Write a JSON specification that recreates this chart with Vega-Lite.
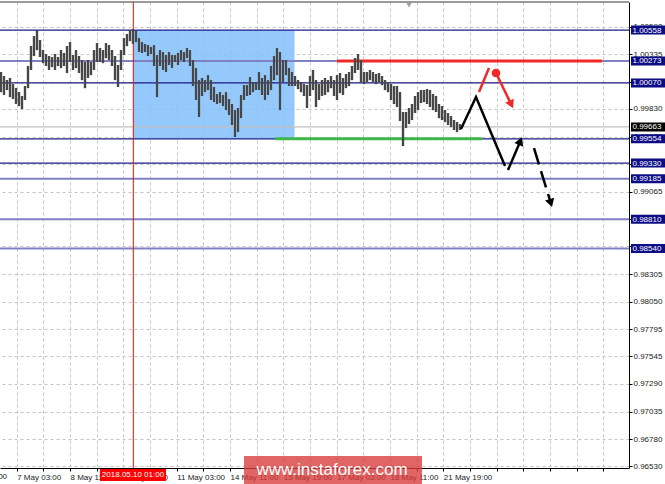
{
  "$schema": "https://vega.github.io/schema/vega-lite/v6.json",
  "width": 629,
  "height": 466,
  "autosize": {"type": "none"},
  "padding": {"left": 0, "top": 2, "right": 36, "bottom": 16},
  "background": "white",
  "config": {
    "view": {"stroke": null},
    "axis": {"labelOverlap": false, "labelFlush": false, "labelBound": false}
  },
  "datasets": {
    "bars": [
      {"i":1,"h":1.0017,"l":0.99985},{"i":4,"h":1.00133,"l":0.99958},{"i":7,"h":1.00096,"l":1.00004},{"i":10,"h":1.00115,"l":0.99939},
      {"i":13,"h":1.00059,"l":0.99921},{"i":16,"h":1.00022,"l":0.99875},{"i":19,"h":0.99985,"l":0.99856},{"i":22,"h":0.99949,"l":0.99828},
      {"i":25,"h":1.00041,"l":0.99912},{"i":28,"h":1.00226,"l":1.00022},{"i":31,"h":1.0041,"l":1.00189},{"i":34,"h":1.00503,"l":1.00318},
      {"i":37,"h":1.00558,"l":1.00373},{"i":40,"h":1.00466,"l":1.00309},{"i":43,"h":1.00373,"l":1.00253},{"i":46,"h":1.00336,"l":1.00226},
      {"i":49,"h":1.00318,"l":1.00189},{"i":52,"h":1.00309,"l":1.00216},{"i":55,"h":1.00336,"l":1.00189},{"i":58,"h":1.00309,"l":1.00226},
      {"i":61,"h":1.00373,"l":1.00207},{"i":64,"h":1.00346,"l":1.00226},{"i":67,"h":1.0041,"l":1.00161},{"i":70,"h":1.00447,"l":1.00263},
      {"i":73,"h":1.00327,"l":1.00189},{"i":76,"h":1.00373,"l":1.00207},{"i":79,"h":1.00318,"l":1.00161},{"i":82,"h":1.00281,"l":1.00096},
      {"i":85,"h":1.00263,"l":1.00022},{"i":88,"h":1.00281,"l":1.00115},{"i":91,"h":1.00263,"l":1.00142},{"i":94,"h":1.00373,"l":1.00189},
      {"i":97,"h":1.00438,"l":1.00263},{"i":100,"h":1.00392,"l":1.00263},{"i":103,"h":1.00373,"l":1.00253},{"i":106,"h":1.00438,"l":1.00299},
      {"i":109,"h":1.00419,"l":1.00281},{"i":112,"h":1.00373,"l":1.00226},{"i":115,"h":1.00318,"l":1.00096},{"i":118,"h":1.00235,"l":1.00032},
      {"i":121,"h":1.00373,"l":1.00189},{"i":124,"h":1.00484,"l":1.00327},{"i":127,"h":1.00521,"l":1.0041},{"i":130,"h":1.00558,"l":1.00456},
      {"i":133,"h":1.00567,"l":1.00429},{"i":136,"h":1.00549,"l":1.00447},{"i":139,"h":1.00484,"l":1.00355},{"i":142,"h":1.00447,"l":1.00346},
      {"i":145,"h":1.00429,"l":1.00355},{"i":148,"h":1.00419,"l":1.00318},{"i":151,"h":1.00401,"l":1.00336},{"i":154,"h":1.00419,"l":1.00226},
      {"i":157,"h":1.00327,"l":0.99939},{"i":160,"h":1.00373,"l":1.00226},{"i":163,"h":1.00355,"l":1.00189},{"i":166,"h":1.00327,"l":1.0017},
      {"i":169,"h":1.00355,"l":1.00235},{"i":172,"h":1.00327,"l":1.00207},{"i":175,"h":1.00327,"l":1.00263},{"i":178,"h":1.00346,"l":1.00235},
      {"i":181,"h":1.00373,"l":1.00281},{"i":184,"h":1.00355,"l":1.00263},{"i":187,"h":1.00392,"l":1.00299},{"i":190,"h":1.00373,"l":1.00226},
      {"i":193,"h":1.00281,"l":1.00041},{"i":196,"h":1.00207,"l":0.99912},{"i":199,"h":1.00096,"l":0.99755},{"i":202,"h":1.00115,"l":0.99949},
      {"i":205,"h":1.00096,"l":0.99985},{"i":208,"h":1.00142,"l":1.00004},{"i":211,"h":1.00096,"l":0.99912},{"i":214,"h":1.00032,"l":0.99893},
      {"i":217,"h":0.99967,"l":0.99875},{"i":220,"h":0.99985,"l":0.99884},{"i":223,"h":0.99958,"l":0.99856},{"i":226,"h":0.99985,"l":0.99819},
      {"i":229,"h":0.99921,"l":0.99773},{"i":232,"h":0.99875,"l":0.99681},{"i":235,"h":0.99819,"l":0.9957},{"i":238,"h":0.99838,"l":0.99616},
      {"i":241,"h":0.99958,"l":0.99745},{"i":244,"h":1.0005,"l":0.99912},{"i":247,"h":1.0005,"l":0.99949},{"i":250,"h":1.00124,"l":0.99958},
      {"i":253,"h":1.00078,"l":0.99985},{"i":256,"h":1.00078,"l":1.00004},{"i":259,"h":1.0017,"l":1.00004},{"i":262,"h":1.00115,"l":0.99958},
      {"i":265,"h":1.00142,"l":0.99912},{"i":268,"h":1.00096,"l":0.99958},{"i":271,"h":1.00226,"l":1.00004},{"i":274,"h":1.00318,"l":1.00096},
      {"i":277,"h":1.00392,"l":1.00142},{"i":280,"h":1.00355,"l":0.99819},{"i":283,"h":1.00281,"l":1.00078},{"i":286,"h":1.00281,"l":1.00142},
      {"i":289,"h":1.00207,"l":1.00041},{"i":292,"h":1.0017,"l":1.00041},{"i":295,"h":1.00133,"l":1.00041},{"i":298,"h":1.00096,"l":1.00013},
      {"i":301,"h":1.00078,"l":0.99985},{"i":304,"h":1.00059,"l":0.99949},{"i":307,"h":1.0005,"l":0.99838},{"i":310,"h":1.00133,"l":0.99949},
      {"i":313,"h":1.00189,"l":1.00004},{"i":316,"h":1.00096,"l":0.99847},{"i":319,"h":1.00059,"l":0.99912},{"i":322,"h":1.00096,"l":0.99949},
      {"i":325,"h":1.00115,"l":0.99958},{"i":328,"h":1.00096,"l":0.99985},{"i":331,"h":1.00133,"l":1.00022},{"i":334,"h":1.00096,"l":0.99949},
      {"i":337,"h":1.00142,"l":0.99912},{"i":340,"h":1.00161,"l":0.99976},{"i":343,"h":1.00115,"l":0.99958},{"i":346,"h":1.00152,"l":1.00022},
      {"i":349,"h":1.0017,"l":1.00041},{"i":352,"h":1.00226,"l":1.00096},{"i":355,"h":1.00299,"l":1.00161},{"i":358,"h":1.00336,"l":1.00189},
      {"i":361,"h":1.00281,"l":1.00069},{"i":364,"h":1.0017,"l":1.00059},{"i":367,"h":1.0017,"l":1.00078},{"i":370,"h":1.00189,"l":1.00096},
      {"i":373,"h":1.0017,"l":1.00078},{"i":376,"h":1.00152,"l":1.00059},{"i":379,"h":1.00161,"l":1.00078},{"i":382,"h":1.00133,"l":1.0005},
      {"i":385,"h":1.00096,"l":1.00004},{"i":388,"h":1.00078,"l":0.99985},{"i":391,"h":1.00059,"l":0.99912},{"i":394,"h":1.00041,"l":0.99875},
      {"i":397,"h":1.00041,"l":0.99847},{"i":400,"h":0.99985,"l":0.99718},{"i":403,"h":0.99801,"l":0.99487},{"i":406,"h":0.99801,"l":0.99653},
      {"i":409,"h":0.99838,"l":0.9969},{"i":412,"h":0.99875,"l":0.99727},{"i":415,"h":0.99949,"l":0.99792},{"i":418,"h":0.99985,"l":0.99819},
      {"i":421,"h":1.00004,"l":0.99884},{"i":424,"h":1.00004,"l":0.99893},{"i":427,"h":1.00013,"l":0.99875},{"i":430,"h":1.00004,"l":0.99847},
      {"i":433,"h":0.99967,"l":0.99819},{"i":436,"h":0.99949,"l":0.99801},{"i":439,"h":0.99875,"l":0.99745},{"i":442,"h":0.99856,"l":0.99727},
      {"i":445,"h":0.99819,"l":0.99708},{"i":448,"h":0.99792,"l":0.99681},{"i":451,"h":0.99764,"l":0.99662},{"i":454,"h":0.99727,"l":0.99635},
      {"i":457,"h":0.99708,"l":0.99616},{"i":460,"h":0.9969,"l":0.99635}
    ],
    "levelsMain": [{"p":1.00558},{"p":1.0007},{"p":0.99554},{"p":0.9933}],
    "levelsMinor": [{"p":1.00273},{"p":0.99185},{"p":0.9881},{"p":0.9854}],
    "levelBoxes": [{"p":1.00558},{"p":1.00273},{"p":1.0007},{"p":0.99554},{"p":0.9933},{"p":0.99185},{"p":0.9881},{"p":0.9854}],
    "current": [{"p":0.99663}],
    "zone": [{"from":133.3,"to":294.5,"top":1.00558,"bottom":0.99554}],
    "marker": [{"i":133.3}],
    "resistance": [{"from":337,"to":602,"p":1.00273}],
    "support": [{"from":275,"to":482,"p":0.99554}],
    "blackPath": [
      {"seg":"a","o":1,"i":461,"p":0.99644},{"seg":"a","o":2,"i":476,"p":0.99939},{"seg":"a","o":3,"i":505,"p":0.99302},
      {"seg":"b","o":1,"i":508,"p":0.99265},{"seg":"b","o":2,"i":520.4,"p":0.99533}
    ],
    "dashPath": [{"o":1,"i":534,"p":0.99468},{"o":2,"i":550.8,"p":0.98961}],
    "redPath": [
      {"seg":"a","o":1,"i":479,"p":0.99985},{"seg":"a","o":2,"i":489,"p":1.00207},
      {"seg":"b","o":1,"i":496,"p":1.00161},{"seg":"b","o":2,"i":511.3,"p":0.99871}
    ],
    "redDot": [{"i":496,"p":1.00161}],
    "headUp": [{"i":520.4,"p":0.99533}],
    "headDashed": [{"i":550.8,"p":0.98961}],
    "headRed": [{"i":511.3,"p":0.99871}],
    "topMark": [{"i":409,"p":1.00789}],
    "topEdge": [{"p":1.00817}],
    "firstLabel": [{"t":"4 May 19:00"}],
    "stamp": [{"t":"2018.05.10 01:00"}],
    "water": [{"t":"www.instaforex.com"}]
  },
  "layer": [
    {
      "data": {"name": "bars"},
      "mark": {"type": "rule", "color": "#474747", "strokeWidth": 2.2},
      "encoding": {
        "x": {"field": "i", "type": "quantitative", "title": null,
          "scale": {"domain": [0, 629], "nice": false, "zero": false},
          "axis": {
            "orient": "bottom", "title": null, "zindex": 0, "tickCount": 40,
            "values": [16.67,43.33,70,96.67,123.33,150,176.67,203.33,230,256.67,283.33,310,336.67,363.33,390,416.67,443.33,470,496.67,523.33,550,576.67,603.33],
            "labelExpr": "['','7 May 03:00','','8 May 11:00','','9 May 19:00','','11 May 03:00','','14 May 11:00','','15 May 19:00','','17 May 03:00','','18 May 11:00','','21 May 19:00','','','','','',''][round((datum.value+10)/26.667)]",
            "grid": true, "gridDash": [3,3], "gridColor": "#c4c4c4", "gridWidth": 1,
            "domainColor": "#000000", "domainWidth": 1, "tickColor": "#000000", "tickSize": 3,
            "labelFont": "Liberation Sans", "labelFontSize": 8, "labelColor": "#222222",
            "labelAlign": "left", "labelBaseline": "top", "labelPadding": 2, "labelFlush": false, "labelOverlap": false, "labelBound": false
          }},
        "y": {"field": "h", "type": "quantitative", "title": null,
          "scale": {"domain": [0.96514, 1.00817], "nice": false, "zero": false},
          "axis": {
            "orient": "right", "title": null, "zindex": 0, "tickCount": 40,
            "values": [0.9653,0.9678,0.97035,0.9729,0.97545,0.97795,0.9805,0.98305,0.9856,0.9881,0.99065,0.9932,0.99575,0.9983,1.0008,1.00335,1.0059],
            "format": ".5f",
            "grid": true, "gridDash": [3,3], "gridColor": "#c4c4c4", "gridWidth": 1,
            "domainColor": "#000000", "domainWidth": 1, "tickColor": "#000000", "tickSize": 3,
            "labelFont": "Liberation Sans", "labelFontSize": 8, "labelColor": "#222222",
            "labelAlign": "left", "labelBaseline": "middle", "labelPadding": 1, "labelFlush": false, "labelOverlap": false, "labelBound": false
          }},
        "y2": {"field": "l"}
      }
    },
    {
      "data": {"name": "topEdge"},
      "mark": {"type": "rule", "color": "#9a9a9a", "strokeWidth": 2},
      "encoding": {"y": {"field": "p", "type": "quantitative", "title": null}}
    },
    {
      "data": {"name": "zone"},
      "mark": {"type": "rect", "fill": "#84c0fa", "opacity": 0.85},
      "encoding": {
        "x": {"field": "from", "type": "quantitative", "title": null},
        "x2": {"field": "to"},
        "y": {"field": "top", "type": "quantitative", "title": null},
        "y2": {"field": "bottom"}
      }
    },
    {
      "data": {"name": "levelsMinor"},
      "mark": {"type": "rule", "color": "#8080c4", "strokeWidth": 2},
      "encoding": {"y": {"field": "p", "type": "quantitative", "title": null}}
    },
    {
      "data": {"name": "levelsMain"},
      "mark": {"type": "rule", "color": "#1a1a8a", "strokeWidth": 1.2},
      "encoding": {"y": {"field": "p", "type": "quantitative", "title": null}}
    },
    {
      "data": {"name": "current"},
      "mark": {"type": "rule", "color": "#c0c0c0", "strokeWidth": 1.2},
      "encoding": {"y": {"field": "p", "type": "quantitative", "title": null}}
    },
    {
      "data": {"name": "marker"},
      "mark": {"type": "rule", "color": "#e01010", "strokeWidth": 1},
      "encoding": {"x": {"field": "i", "type": "quantitative", "title": null}}
    },
    {
      "data": {"name": "resistance"},
      "mark": {"type": "rule", "color": "#f02828", "strokeWidth": 3},
      "encoding": {
        "x": {"field": "from", "type": "quantitative", "title": null},
        "x2": {"field": "to"},
        "y": {"field": "p", "type": "quantitative", "title": null}
      }
    },
    {
      "data": {"name": "support"},
      "mark": {"type": "rule", "color": "#3cb84a", "strokeWidth": 3},
      "encoding": {
        "x": {"field": "from", "type": "quantitative", "title": null},
        "x2": {"field": "to"},
        "y": {"field": "p", "type": "quantitative", "title": null}
      }
    },
    {
      "data": {"name": "bars"},
      "mark": {"type": "rule", "color": "#474747", "strokeWidth": 2.2},
      "encoding": {
        "x": {"field": "i", "type": "quantitative", "title": null},
        "y": {"field": "h", "type": "quantitative", "title": null},
        "y2": {"field": "l"}
      }
    },
    {
      "data": {"name": "blackPath"},
      "mark": {"type": "line", "color": "#000000", "strokeWidth": 2.5},
      "encoding": {
        "x": {"field": "i", "type": "quantitative", "title": null},
        "y": {"field": "p", "type": "quantitative", "title": null},
        "detail": {"field": "seg"},
        "order": {"field": "o"}
      }
    },
    {
      "data": {"name": "dashPath"},
      "mark": {"type": "line", "color": "#000000", "strokeWidth": 2.5, "strokeDash": [17, 7]},
      "encoding": {
        "x": {"field": "i", "type": "quantitative", "title": null},
        "y": {"field": "p", "type": "quantitative", "title": null},
        "order": {"field": "o"}
      }
    },
    {
      "data": {"name": "redPath"},
      "mark": {"type": "line", "color": "#f02828", "strokeWidth": 2.5},
      "encoding": {
        "x": {"field": "i", "type": "quantitative", "title": null},
        "y": {"field": "p", "type": "quantitative", "title": null},
        "detail": {"field": "seg"},
        "order": {"field": "o"}
      }
    },
    {
      "data": {"name": "redDot"},
      "mark": {"type": "point", "shape": "circle", "filled": true, "color": "#f02828", "size": 75, "opacity": 1},
      "encoding": {
        "x": {"field": "i", "type": "quantitative", "title": null},
        "y": {"field": "p", "type": "quantitative", "title": null}
      }
    },
    {
      "data": {"name": "headUp"},
      "mark": {"type": "point", "shape": "triangle-up", "filled": true, "color": "#000000", "size": 90, "angle": 23, "opacity": 1},
      "encoding": {
        "x": {"field": "i", "type": "quantitative", "title": null},
        "y": {"field": "p", "type": "quantitative", "title": null}
      }
    },
    {
      "data": {"name": "headDashed"},
      "mark": {"type": "point", "shape": "triangle-down", "filled": true, "color": "#000000", "size": 90, "angle": -17, "opacity": 1},
      "encoding": {
        "x": {"field": "i", "type": "quantitative", "title": null},
        "y": {"field": "p", "type": "quantitative", "title": null}
      }
    },
    {
      "data": {"name": "headRed"},
      "mark": {"type": "point", "shape": "triangle-down", "filled": true, "color": "#f02828", "size": 90, "angle": -26, "opacity": 1},
      "encoding": {
        "x": {"field": "i", "type": "quantitative", "title": null},
        "y": {"field": "p", "type": "quantitative", "title": null}
      }
    },
    {
      "data": {"name": "topMark"},
      "mark": {"type": "point", "shape": "triangle-down", "filled": true, "color": "#a0a0a0", "size": 30, "opacity": 1},
      "encoding": {
        "x": {"field": "i", "type": "quantitative", "title": null},
        "y": {"field": "p", "type": "quantitative", "title": null}
      }
    },
    {
      "data": {"name": "levelBoxes"},
      "mark": {"type": "tick", "orient": "horizontal", "size": 34, "thickness": 9, "color": "#0c0c84", "opacity": 1},
      "encoding": {
        "x": {"datum": 648, "type": "quantitative", "title": null},
        "y": {"field": "p", "type": "quantitative", "title": null}
      }
    },
    {
      "data": {"name": "levelBoxes"},
      "mark": {"type": "text", "color": "#ffffff", "font": "Liberation Sans", "fontSize": 8, "align": "left", "baseline": "middle", "dy": 0.5},
      "encoding": {
        "x": {"datum": 632.5, "type": "quantitative", "title": null},
        "y": {"field": "p", "type": "quantitative", "title": null},
        "text": {"field": "p", "format": ".5f"}
      }
    },
    {
      "data": {"name": "current"},
      "mark": {"type": "tick", "orient": "horizontal", "size": 34, "thickness": 9, "color": "#000000", "opacity": 1},
      "encoding": {
        "x": {"datum": 648, "type": "quantitative", "title": null},
        "y": {"field": "p", "type": "quantitative", "title": null}
      }
    },
    {
      "data": {"name": "current"},
      "mark": {"type": "text", "color": "#ffffff", "font": "Liberation Sans", "fontSize": 8, "align": "left", "baseline": "middle", "dy": 0.5},
      "encoding": {
        "x": {"datum": 632.5, "type": "quantitative", "title": null},
        "y": {"field": "p", "type": "quantitative", "title": null},
        "text": {"field": "p", "format": ".5f"}
      }
    },
    {
      "data": {"name": "firstLabel"},
      "mark": {"type": "text", "color": "#222222", "font": "Liberation Sans", "fontSize": 8, "align": "left", "baseline": "top"},
      "encoding": {
        "x": {"datum": -37, "type": "quantitative", "title": null},
        "y": {"datum": 0.96468, "type": "quantitative", "title": null},
        "text": {"field": "t"}
      }
    },
    {
      "data": {"name": "stamp"},
      "mark": {"type": "rect", "color": "#ff0000"},
      "encoding": {
        "x": {"datum": 100, "type": "quantitative", "title": null},
        "x2": {"datum": 166},
        "y": {"datum": 0.96504, "type": "quantitative", "title": null},
        "y2": {"datum": 0.96394}
      }
    },
    {
      "data": {"name": "stamp"},
      "mark": {"type": "text", "color": "#ffffff", "font": "Liberation Sans", "fontSize": 8, "align": "center", "baseline": "middle"},
      "encoding": {
        "x": {"datum": 133, "type": "quantitative", "title": null},
        "y": {"datum": 0.96449, "type": "quantitative", "title": null},
        "text": {"field": "t"}
      }
    },
    {
      "data": {"name": "water"},
      "mark": {"type": "rect", "color": "#d83a3a", "opacity": 0.78},
      "encoding": {
        "x": {"datum": 244, "type": "quantitative", "title": null},
        "x2": {"datum": 422},
        "y": {"datum": 0.96624, "type": "quantitative", "title": null},
        "y2": {"datum": 0.96366}
      }
    },
    {
      "data": {"name": "water"},
      "mark": {"type": "text", "color": "#ffffff", "font": "Liberation Sans", "fontSize": 17, "align": "center", "baseline": "middle"},
      "encoding": {
        "x": {"datum": 332, "type": "quantitative", "title": null},
        "y": {"datum": 0.96495, "type": "quantitative", "title": null},
        "text": {"field": "t"}
      }
    }
  ]
}
